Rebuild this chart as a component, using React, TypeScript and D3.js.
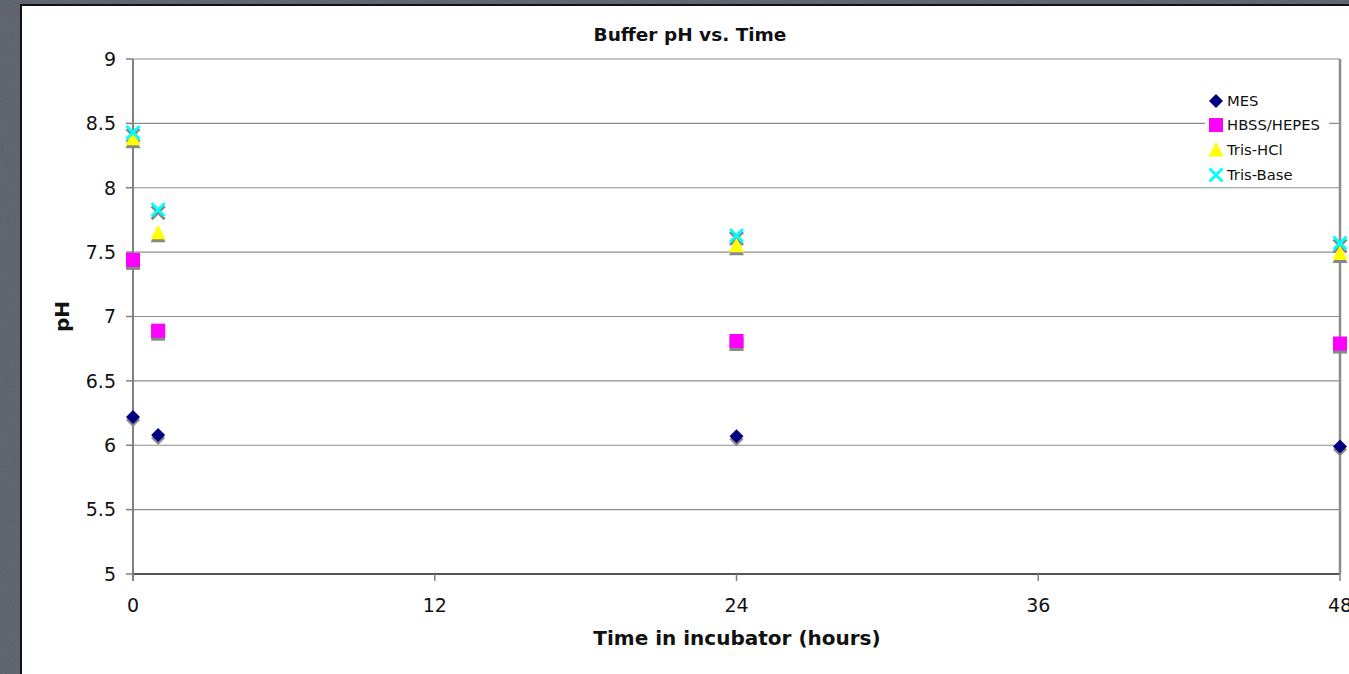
import React from 'react';
import * as d3 from 'd3';

const HOURS = [0, 1, 24, 48];
const MES = [6.22, 6.08, 6.07, 5.99];
const HBSS = [7.44, 6.89, 6.81, 6.79];
const TRIS_HCL = [8.38, 7.65, 7.55, 7.49];
const TRIS_BASE = [8.43, 7.83, 7.63, 7.57];

const X_TICKS = [0, 12, 24, 36, 48];
const Y_TICKS = [5, 5.5, 6, 6.5, 7, 7.5, 8, 8.5, 9];

const SERIES = [
  { name: 'MES', values: MES, color: '#000080', shape: 'diamond' },
  { name: 'HBSS/HEPES', values: HBSS, color: '#FF00FF', shape: 'square' },
  { name: 'Tris-HCl', values: TRIS_HCL, color: '#FFFF00', shape: 'triangle' },
  { name: 'Tris-Base', values: TRIS_BASE, color: '#00FFFF', shape: 'cross' },
];

const W = 1349;
const H = 674;
const margin = { left: 133, right: 7, top: 59, bottom: 100 };
const FONT = '"DejaVu Sans", Verdana, sans-serif';

function Marker({ shape, x, y, color }: { shape: string; x: number; y: number; color: string }) {
  if (shape === 'diamond') {
    const p = d3.symbol(d3.symbolDiamond2, 125)();
    return <path d={p || ''} transform={`translate(${x},${y})`} fill={color} />;
  }
  if (shape === 'square') {
    return <rect x={x - 7} y={y - 7} width={14} height={14} fill={color} />;
  }
  if (shape === 'triangle') {
    return <path d={`M${x},${y - 8}L${x + 7.5},${y + 6.5}L${x - 7.5},${y + 6.5}Z`} fill={color} />;
  }
  return (
    <g stroke={color} strokeWidth={2.8}>
      <line x1={x - 6.5} y1={y - 6.5} x2={x + 6.5} y2={y + 6.5} />
      <line x1={x - 6.5} y1={y + 6.5} x2={x + 6.5} y2={y - 6.5} />
    </g>
  );
}

export default function App() {
  const x = d3.scaleLinear().domain([0, 48]).range([margin.left, W - margin.right - 2]);
  const y = d3.scaleLinear().domain([5, 9]).range([H - margin.bottom, margin.top]);
  const x0 = x(0), x1 = x(48), yTop = y(9), yBot = y(5);

  const legendX = 1216;
  const legendY = [101, 125, 150, 175];

  return (
    <svg width={W} height={H} style={{ position: 'absolute', left: 0, top: 0 }} fontFamily={FONT}>
      <defs>
        <filter id="tex">
          <feTurbulence type="fractalNoise" baseFrequency="0.9" numOctaves={2} result="n" />
          <feColorMatrix type="saturate" values="0" />
          <feComponentTransfer>
            <feFuncA type="linear" slope="0.12" />
          </feComponentTransfer>
        </filter>
      </defs>
      <rect width={W} height={H} fill="#5a5f6b" />
      <rect width={W} height={H} filter="url(#tex)" />
      <rect x={21} y={5} width={1400} height={720} fill="#fff" stroke="#111" strokeWidth={2} />

      {/* grid */}
      {Y_TICKS.map(t => (
        <line key={t} x1={x0} x2={x1} y1={y(t)} y2={y(t)} stroke={t === 5 ? '#555' : '#8c8c8c'} strokeWidth={t === 5 ? 2 : 1.2} />
      ))}
      <line x1={x1} x2={x1} y1={yTop} y2={yBot} stroke="#8c8c8c" strokeWidth={2.5} />
      <line x1={x0} x2={x0} y1={yTop} y2={yBot + 7} stroke="#808080" strokeWidth={2} />

      {/* y ticks */}
      {Y_TICKS.map(t => (
        <g key={t}>
          <line x1={x0 - 7} x2={x0} y1={y(t)} y2={y(t)} stroke="#808080" strokeWidth={1.5} />
          <text x={x0 - 17} y={y(t)} dy="0.36em" textAnchor="end" fontSize={19} fill="#111">{t}</text>
        </g>
      ))}
      {/* x ticks */}
      {X_TICKS.map(t => (
        <g key={t}>
          <line x1={x(t)} x2={x(t)} y1={yBot} y2={yBot + 7} stroke="#808080" strokeWidth={1.5} />
          <text x={x(t)} y={yBot + 38} textAnchor="middle" fontSize={19} fill="#111">{t}</text>
        </g>
      ))}

      <text x={690} y={41} textAnchor="middle" fontSize={18.5} fontWeight="bold" fill="#111">Buffer pH vs. Time</text>
      <text x={737} y={645} textAnchor="middle" fontSize={20} fontWeight="bold" fill="#111">Time in incubator (hours)</text>
      <text transform={`translate(69,${(yTop + yBot) / 2}) rotate(-90)`} textAnchor="middle" fontSize={20} fontWeight="bold" fill="#111">pH</text>

      {/* legend */}
      <rect x={1205} y={88} width={124} height={97} fill="#fff" />
      {SERIES.map((s, i) => (
        <g key={s.name}>
          <Marker shape={s.shape} x={legendX} y={legendY[i]} color={s.color} />
          <text x={legendX + 11} y={legendY[i]} dy="0.36em" fontSize={14.8} fill="#111">{s.name}</text>
        </g>
      ))}

      {/* shadows */}
      {SERIES.map(s => s.values.map((v, i) => (
        <Marker key={`sh-${s.name}-${i}`} shape={s.shape} x={x(HOURS[i])} y={y(v) + 3} color="#888" />
      )))}
      {SERIES.map(s => s.values.map((v, i) => (
        <Marker key={`${s.name}-${i}`} shape={s.shape} x={x(HOURS[i])} y={y(v)} color={s.color} />
      )))}
    </svg>
  );
}
